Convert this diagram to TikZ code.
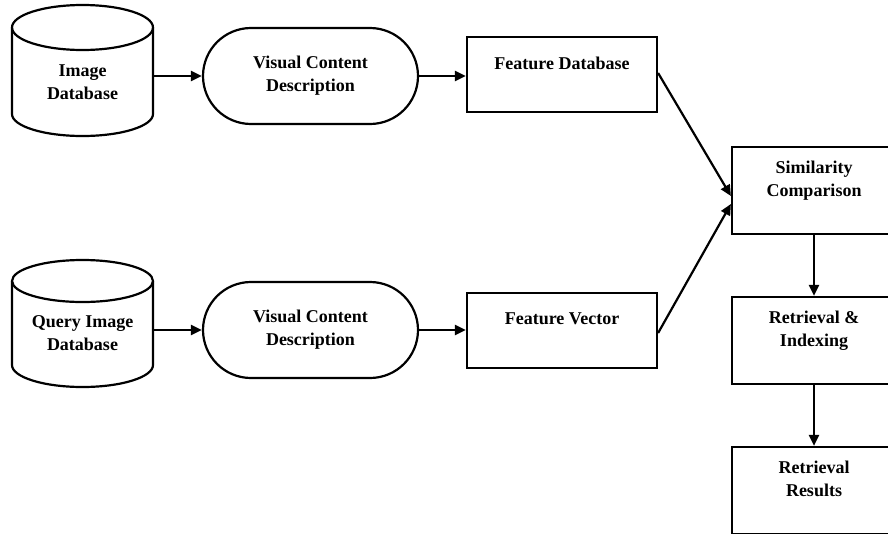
\documentclass[tikz,border=0pt]{standalone}
\usepackage{fontspec}
\setmainfont{Liberation Serif}
\usetikzlibrary{arrows.meta}
\tikzset{
  base/.style={line width=2.2pt, font=\bfseries\fontsize{18}{23}\selectfont, align=center, inner sep=0pt},
  dbtext/.style={base, minimum width=141pt},
  procbox/.style={base, draw, rounded corners=48pt, minimum width=215pt, minimum height=96pt},
  datbox/.style={base, draw, minimum width=190pt, minimum height=75pt},
  stepbox/.style={base, draw, minimum width=164pt, minimum height=87pt},
  cyl/.style={line width=2.2pt},
  arr/.style={line width=2.2pt, -{Triangle[length=11pt,width=10pt]}},
  link/.style={line width=2.2pt}
}
\begin{document}
\begin{tikzpicture}[x=1pt,y=-1pt]
\useasboundingbox (0,0) rectangle (888,533);
\clip (0,0) rectangle (888,533);

% image database cylinder
\draw[cyl] (82.5,27.5) ellipse [x radius=70.5pt, y radius=22.5pt];
\draw[cyl] (12,27.5) -- (12,114) arc[start angle=180, end angle=360, x radius=70.5pt, y radius=22pt] -- (153,27.5);
\node[dbtext] (db1) at (82.5,82.5) {Image\\Database};

% query image database cylinder
\draw[cyl] (82.5,281) ellipse [x radius=70.5pt, y radius=21pt];
\draw[cyl] (12,281) -- (12,365) arc[start angle=180, end angle=360, x radius=70.5pt, y radius=22pt] -- (153,281);
\node[dbtext] (db2) at (82.5,333) {Query Image\\Database};

% processing stages
\node[procbox] (vcd1) at (310.5,76) {Visual Content\\Description};
\node[procbox] (vcd2) at (310.5,330) {Visual Content\\Description};

\node[datbox] (fd) at (562,74.5) {Feature Database\\\mbox{}};
\node[datbox] (fv) at (562,330.5) {Feature Vector\\\mbox{}};

\node[stepbox] (sim) at (814,190.5) {Similarity\\Comparison\\\mbox{}};
\node[stepbox] (ri) at (814,340.5) {Retrieval \&\\Indexing\\\mbox{}};
\node[stepbox] (rr) at (814,490.5) {Retrieval\\Results\\\mbox{}};

% connectors
\draw[arr] (db1.east |- vcd1.west) -- (vcd1.west);
\draw[arr] (db2.east |- vcd2.west) -- (vcd2.west);
\draw[arr] (vcd1.east) -- (vcd1.east -| fd.west);
\draw[arr] (vcd2.east) -- (vcd2.east -| fv.west);
\draw[arr] ([yshift=1.5pt]fd.east) -- ([yshift=-5.5pt]sim.west);
\draw[arr] ([yshift=-2.5pt]fv.east) -- ([yshift=-13.5pt]sim.west);
\draw[arr] (sim.south) -- (ri.north);
\draw[arr] (ri.south) -- (rr.north);
\end{tikzpicture}
\end{document}
